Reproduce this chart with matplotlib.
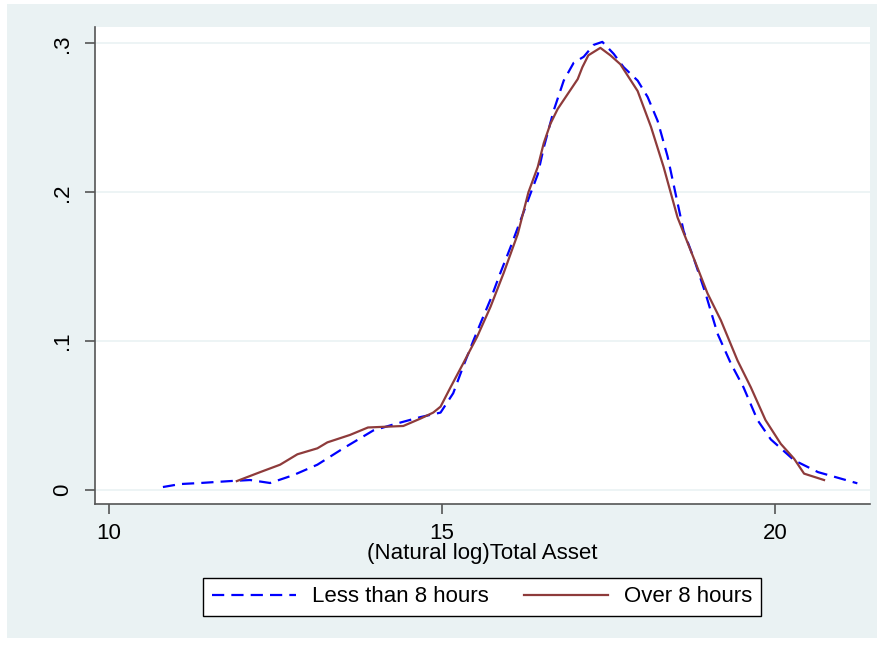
import numpy as np
import matplotlib.pyplot as plt
from matplotlib.patches import Rectangle

plt.rcParams['font.family'] = ['Liberation Sans', 'DejaVu Sans']

# kernel density estimates of log total assets, by working hours
less_x = [10.81, 11.07, 11.37, 11.82, 12.12, 12.42, 12.77, 13.13, 13.52, 13.97,
          14.27, 14.68, 14.98, 15.17, 15.32, 15.47, 15.58, 15.73, 15.88, 16.03,
          16.18, 16.33, 16.44, 16.53, 16.68, 16.83, 16.98, 17.13, 17.28, 17.41,
          17.58, 17.73, 17.94, 18.09, 18.24, 18.39, 18.51, 18.63, 18.78, 18.96,
          19.14, 19.34, 19.53, 19.74, 19.94, 20.29, 20.65, 21.24]
less_y = [0.002, 0.004, 0.0047, 0.006, 0.0067, 0.0047, 0.010, 0.017, 0.028, 0.040,
          0.044, 0.049, 0.052, 0.065, 0.083, 0.100, 0.112, 0.128, 0.146, 0.163,
          0.181, 0.199, 0.212, 0.230, 0.255, 0.275, 0.287, 0.291, 0.299, 0.301,
          0.293, 0.284, 0.275, 0.264, 0.248, 0.224, 0.199, 0.174, 0.156, 0.132,
          0.105, 0.085, 0.069, 0.047, 0.034, 0.020, 0.012, 0.0045]

over_x = [11.92, 12.27, 12.57, 12.83, 13.13, 13.28, 13.62, 13.89, 14.42, 14.68,
          14.87, 14.98, 15.13, 15.32, 15.53, 15.73, 15.93, 16.14, 16.30, 16.44,
          16.53, 16.63, 16.74, 16.89, 17.04, 17.11, 17.20, 17.38, 17.53, 17.68,
          17.94, 18.14, 18.33, 18.54, 18.78, 18.99, 19.19, 19.44, 19.64, 19.86,
          20.09, 20.29, 20.44, 20.74]
over_y = [0.006, 0.012, 0.017, 0.024, 0.028, 0.032, 0.037, 0.042, 0.043, 0.048,
          0.052, 0.056, 0.069, 0.085, 0.103, 0.123, 0.146, 0.172, 0.200, 0.217,
          0.233, 0.246, 0.256, 0.266, 0.276, 0.284, 0.292, 0.297, 0.292, 0.286,
          0.268, 0.244, 0.217, 0.183, 0.156, 0.132, 0.114, 0.087, 0.069, 0.047,
          0.031, 0.021, 0.011, 0.0067]

x_ticks = [10, 15, 20]
y_ticks = [0, 0.1, 0.2, 0.3]
y_labels = ['0', '.1', '.2', '.3']

W, H = 880, 645
bg = '#EAF2F3'
fs = 16

fig = plt.figure(figsize=(W / 100, H / 100), dpi=100, facecolor='white')
fig.patches.append(Rectangle((7 / W, 1 - 638 / H), 870 / W, 634 / H,
                             transform=fig.transFigure, facecolor=bg,
                             edgecolor='none', zorder=-10))

ax = fig.add_axes([95 / W, 1 - 504 / H, 775 / W, 477 / H])
ax.set_facecolor('white')

ax.plot(less_x, less_y, color='#0000FF', lw=1.6, dashes=(5.5, 3.2),
        label='Less than 8 hours', zorder=3)
ax.plot(over_x, over_y, color='#8E3B3B', lw=1.6, label='Over 8 hours', zorder=4)

ax.set_xlim(9.79, 21.43)
ax.set_ylim(-0.0094, 0.311)
ax.set_xticks(x_ticks)
ax.set_yticks(y_ticks)
ax.set_yticklabels(y_labels, rotation=90, va='center')
ax.grid(axis='y', color=bg, lw=1.2)
ax.set_axisbelow(True)

for s in ['top', 'right']:
    ax.spines[s].set_visible(False)
for s in ['left', 'bottom']:
    ax.spines[s].set_color('#555555')
    ax.spines[s].set_linewidth(1.2)
ax.tick_params(length=7, width=1.2, color='#555555', labelsize=fs, pad=7)
ax.tick_params(axis='y', pad=9)

ax.set_xlabel('(Natural log)Total Asset', fontsize=fs, labelpad=-1)

fig.legend(loc='center', bbox_to_anchor=(482 / W, 1 - 597 / H), ncol=2,
           fontsize=fs, frameon=True, fancybox=False, edgecolor='black',
           framealpha=1, handlelength=3.8, handletextpad=0.7,
           columnspacing=1.6, borderpad=0.4)

fig.savefig('out.png', dpi=100)
